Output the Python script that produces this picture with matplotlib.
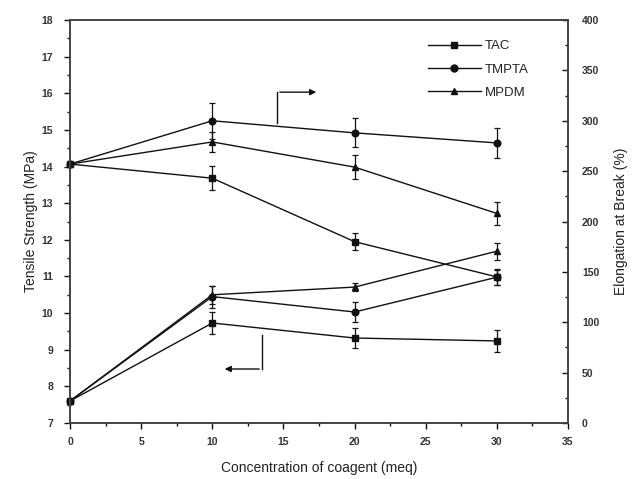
"""Tensile strength and elongation at break vs. coagent concentration."""
import matplotlib.pyplot as plt
from matplotlib.lines import Line2D
from matplotlib.ticker import MultipleLocator

plt.rcParams["font.family"] = ["Liberation Sans", "DejaVu Sans"]

conc = [0, 10, 20, 30]
names = ["TAC", "TMPTA", "MPDM"]
markers = ["s", "o", "^"]

# tensile strength (MPa), left axis
ts_tac = [7.6, 9.73, 9.32, 9.24]
ts_tmpta = [7.6, 10.45, 10.03, 10.98]
ts_mpdm = [7.6, 10.5, 10.71, 11.69]
ts_err_tac = [0.0, 0.3, 0.28, 0.3]
ts_err_tmpta = [0.0, 0.3, 0.28, 0.2]
ts_err_mpdm = [0.0, 0.25, 0.1, 0.23]

# elongation at break (%), right axis
el_tac = [257, 243, 180, 145]
el_tmpta = [257, 300, 288, 278]
el_mpdm = [257, 279, 254, 208]
el_err_tac = [0, 12, 8.5, 8]
el_err_tmpta = [0, 18, 14.5, 14.5]
el_err_mpdm = [0, 10, 12, 11]

ts = [ts_tac, ts_tmpta, ts_mpdm]
ts_err = [ts_err_tac, ts_err_tmpta, ts_err_mpdm]
el = [el_tac, el_tmpta, el_mpdm]
el_err = [el_err_tac, el_err_tmpta, el_err_mpdm]

INK = "#111111"

fig = plt.figure(figsize=(6.37, 4.79), dpi=100)
ax = fig.add_axes([0.1099, 0.1169, 0.7818, 0.8413])
ax2 = ax.twinx()

style = dict(color=INK, lw=1.0, ms=4.8, capsize=2.3, elinewidth=0.9,
             capthick=0.9, clip_on=False)
for y, e, m in zip(ts, ts_err, markers):
    ax.errorbar(conc, y, yerr=e, marker=m, **style)
for y, e, m in zip(el, el_err, markers):
    ax2.errorbar(conc, y, yerr=e, marker=m, **style)

ax.set_xlim(0, 35)
ax.set_ylim(7, 18)
ax2.set_ylim(0, 400)
ax.xaxis.set_major_locator(MultipleLocator(5))
ax.xaxis.set_minor_locator(MultipleLocator(2.5))
ax.yaxis.set_major_locator(MultipleLocator(1))
ax.yaxis.set_minor_locator(MultipleLocator(0.5))
ax2.yaxis.set_major_locator(MultipleLocator(50))
ax2.yaxis.set_minor_locator(MultipleLocator(25))

tick_font = dict(labelsize=7.5, labelcolor="#333333", width=1.0, color=INK)
ax.tick_params(axis="x", which="major", direction="out", length=4, pad=6,
               **tick_font)
ax.tick_params(axis="y", which="major", direction="out", length=4, pad=8,
               **tick_font)
ax.tick_params(axis="both", which="minor", direction="out", length=2.5,
               width=1.0, color=INK)
ax2.tick_params(axis="y", which="major", direction="in", length=4, pad=10,
                **tick_font)
ax2.tick_params(axis="y", which="minor", direction="in", length=2.5,
                width=1.0, color=INK)
for lbl in ax.get_xticklabels() + ax.get_yticklabels() + ax2.get_yticklabels():
    lbl.set_fontweight("bold")

for a in (ax, ax2):
    for sp in a.spines.values():
        sp.set_linewidth(1.2)
        sp.set_color("#444444")

ax.set_xlabel("Concentration of coagent (meq)", fontsize=10, color="#222222",
              labelpad=10)
ax.set_ylabel("Tensile Strength (MPa)", fontsize=10, color="#222222",
              labelpad=3)
ax2.set_ylabel("Elongation at Break (%)", fontsize=10, color="#222222",
               labelpad=11)

# direction arrows, in axes fraction
arrow = dict(arrowstyle="-|>", color=INK, lw=1.0, mutation_scale=9)
ax.plot([0.4157, 0.4157], [0.744, 0.821], color=INK, lw=1.0,
        transform=ax.transAxes)
ax.annotate("", xy=(0.50, 0.821), xytext=(0.4157, 0.821),
            xycoords="axes fraction", arrowprops=arrow)
ax.plot([0.3855, 0.3855], [0.218, 0.134], color=INK, lw=1.0,
        transform=ax.transAxes)
ax.annotate("", xy=(0.305, 0.134), xytext=(0.3855, 0.134),
            xycoords="axes fraction", arrowprops=arrow)

handles = [Line2D([], [], color=INK, lw=1.0, marker=m, ms=5) for m in markers]
leg = ax.legend(handles, names, loc="upper left", bbox_to_anchor=(0.695, 0.98),
                frameon=False, fontsize=9.5, handlelength=4.0,
                handletextpad=0.3, labelspacing=0.85)
for t in leg.get_texts():
    t.set_color("#222222")

fig.savefig("out.png", dpi=100)
